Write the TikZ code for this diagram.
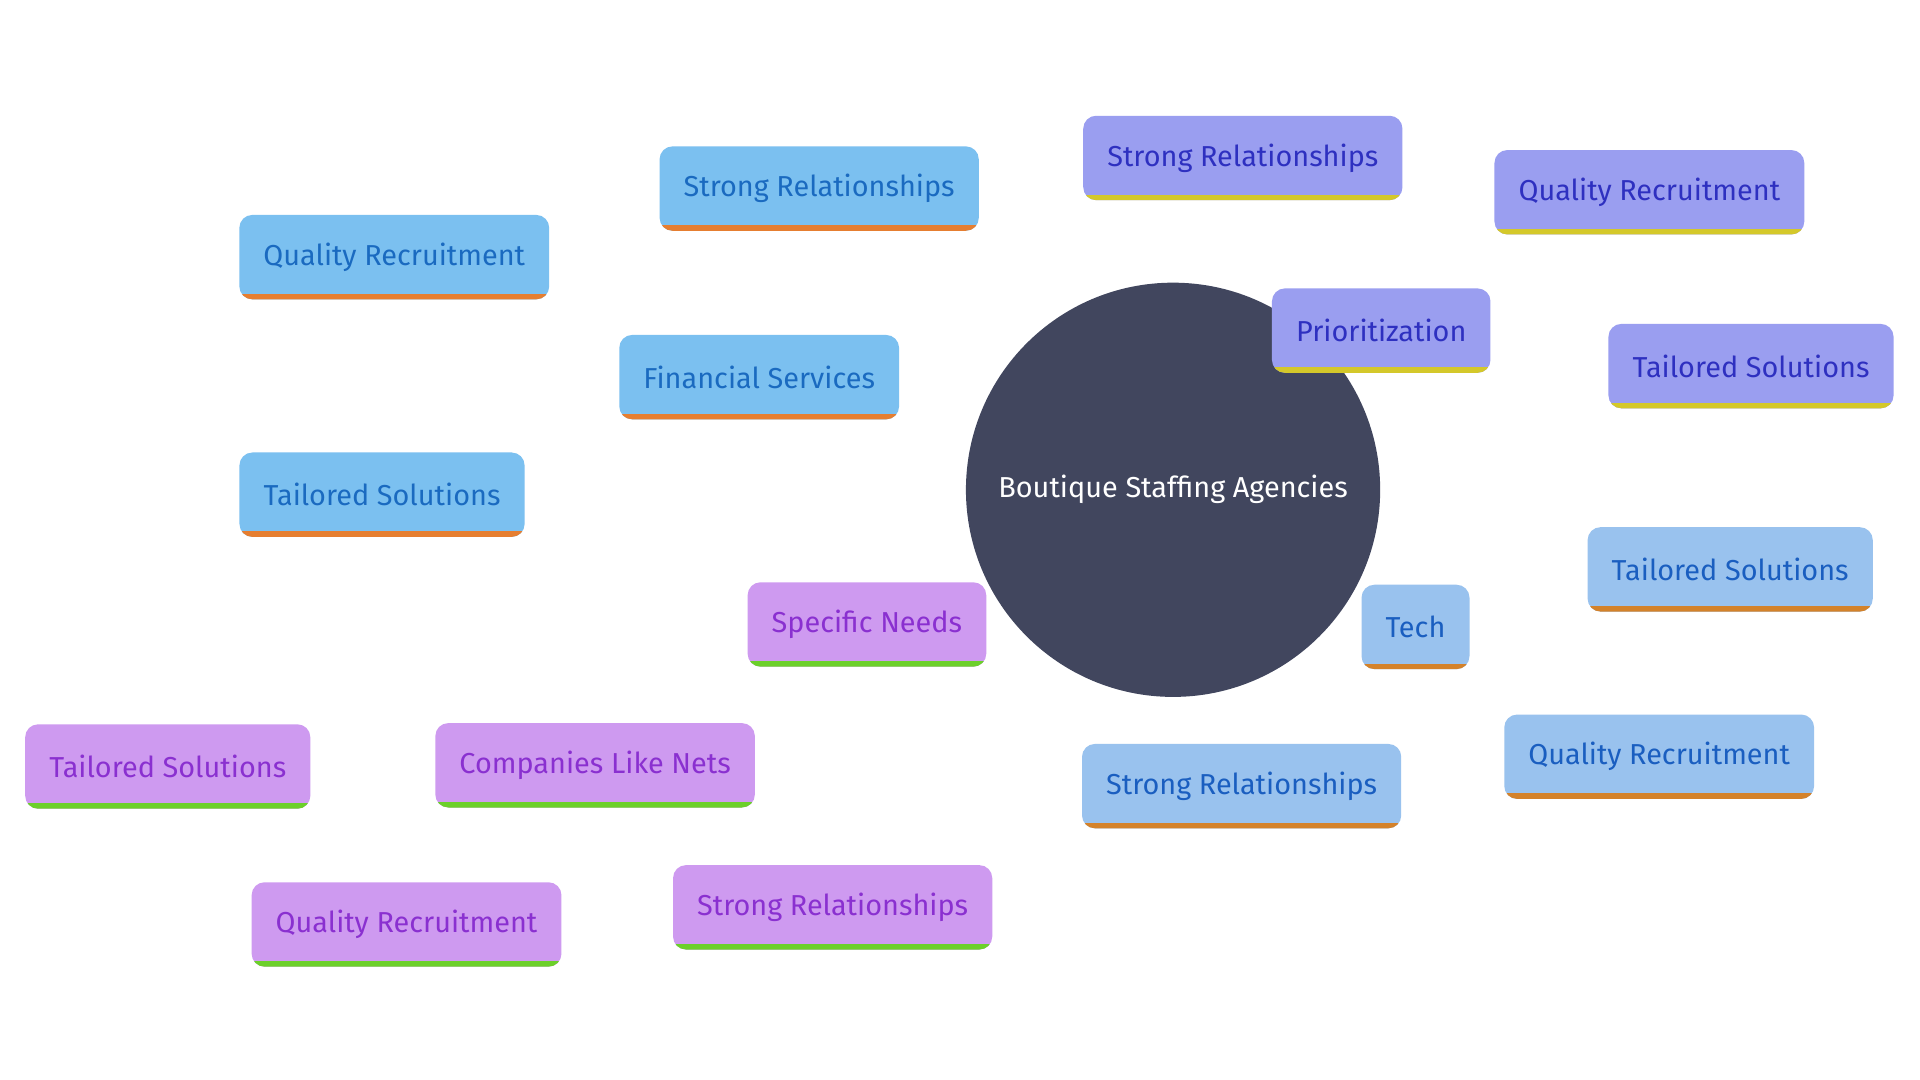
\documentclass[tikz,border=0pt]{standalone}
\usepackage{fontspec}
\setmainfont{Fira Sans}[Scale=1]
\usetikzlibrary{backgrounds}
\definecolor{fsF}{HTML}{7BC0F0}\definecolor{fsT}{HTML}{1A6AC0}\definecolor{fsB}{HTML}{E67E30}
\definecolor{prF}{HTML}{9A9EF0}\definecolor{prT}{HTML}{2E30C0}\definecolor{prB}{HTML}{D4C82A}
\definecolor{teF}{HTML}{99C2EE}\definecolor{teT}{HTML}{1A5EC0}\definecolor{teB}{HTML}{D4822A}
\definecolor{puF}{HTML}{CE9AF0}\definecolor{puT}{HTML}{8A30D0}\definecolor{puB}{HTML}{6CD02A}
\definecolor{hub}{HTML}{41465E}
\tikzset{
 box/.style n args={3}{fill=#1,text=#2,rounded corners=3pt,inner xsep=5.6pt,minimum height=19.6pt,
  font=\fontsize{6.7}{8}\selectfont,
  path picture={\fill[#3,sharp corners] ([yshift=-2pt]path picture bounding box.south west) rectangle ([yshift=1.3pt]path picture bounding box.south east);}},
 fs/.style={box={fsF}{fsT}{fsB}}, pr/.style={box={prF}{prT}{prB}},
 te/.style={box={teF}{teT}{teB}}, pu/.style={box={puF}{puT}{puB}},
 lk/.style={line width=1.4pt,#1}
}
\begin{document}
\begin{tikzpicture}[x=0.01cm,y=-0.01cm]
\useasboundingbox[fill=white] (0,0) rectangle (1568,882);
\node[circle,fill=hub,text=white,minimum size=96.2pt,inner sep=0,font=\fontsize{6.7}{8}\selectfont] (hub) at (958,400) {Boutique Staffing Agencies};
\node[fs] (fs) at (620,308) {Financial Services};
\node[fs] (fs1) at (669,154) {Strong Relationships};
\node[fs] (fs2) at (322,210) {Quality Recruitment};
\node[fs] (fs3) at (312,404) {Tailored Solutions};
\node[pr] (pr) at (1128,270) {Prioritization};
\node[pr] (pr1) at (1015,129) {Strong Relationships};
\node[pr] (pr2) at (1347,157) {Quality Recruitment};
\node[pr] (pr3) at (1430,299) {Tailored Solutions};
\node[te] (te) at (1156,512) {Tech};
\node[te] (te1) at (1413,465) {Tailored Solutions};
\node[te] (te2) at (1355,618) {Quality Recruitment};
\node[te] (te3) at (1014,642) {Strong Relationships};
\node[pu] (pu) at (708,510) {Specific Needs};
\node[pu] (co) at (486,625) {Companies Like Nets};
\node[pu] (co1) at (137,626) {Tailored Solutions};
\node[pu] (co2) at (332,755) {Quality Recruitment};
\node[pu] (co3) at (680,741) {Strong Relationships};
\begin{scope}[on background layer]
\draw[lk=fsF] (hub.center) -- (fs.center) (fs.center) -- (fs1.center) (fs.center) -- (fs2.center) (fs.center) -- (fs3.center);
\draw[lk=prF] (hub.center) -- (pr.center) (pr.center) -- (pr1.center) (pr.center) -- (pr2.center) (pr.center) -- (pr3.center);
\draw[lk=teF] (hub.center) -- (te.center) (te.center) -- (te1.center) (te.center) -- (te2.center) (te.center) -- (te3.center);
\draw[lk=puF] (hub.center) -- (pu.center) (pu.center) -- (co.center) (co.center) -- (co1.center) (co.center) -- (co2.center) (co.center) -- (co3.center);
\end{scope}
\end{tikzpicture}
\end{document}
